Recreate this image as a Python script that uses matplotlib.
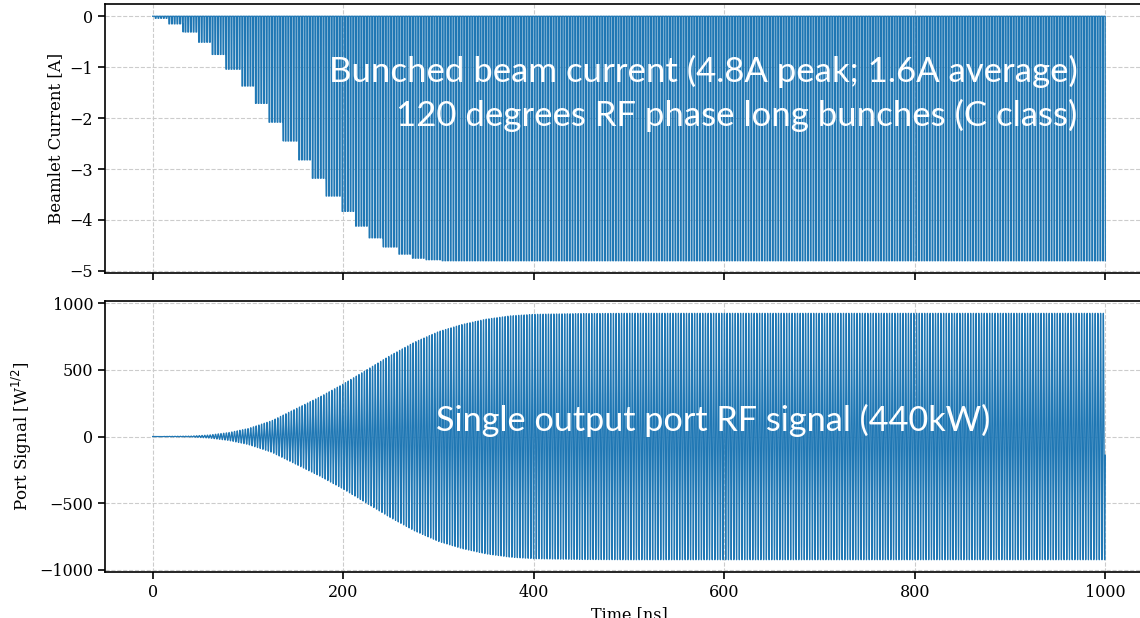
import numpy as np
import matplotlib
matplotlib.use("Agg")
import matplotlib.pyplot as plt

# RF drive and bunching
rfFreq = 0.352          # GHz
bunchPhase = 120.0      # degrees of RF phase per bunch
tEnd = 1000.0           # ns

# stepped beamlet current levels [A], one per 15 ns ramp step
stepStart = 2.0
stepLength = 15.0
stepLevels = [0.0, -0.04, -0.15, -0.31, -0.51, -0.75, -1.04, -1.37, -1.71,
              -2.08, -2.45, -2.82, -3.18, -3.53, -3.83, -4.12, -4.35, -4.53,
              -4.67, -4.75, -4.78, -4.8]

# port signal envelope [W^1/2] read at these times [ns]
envTimes = [0, 40, 60, 80, 100, 125, 150, 175, 200, 225, 250, 275, 300,
            325, 350, 375, 400, 450, 500, 1000]
envAmps = [0, 3, 12, 30, 60, 120, 210, 300, 400, 510, 620, 720, 800,
           855, 895, 920, 932, 938, 940, 940]
endValue = -140.0

samplesPerCycle = 18
nCycles = int(tEnd * rfFreq)
t = np.linspace(0, nCycles / rfFreq, nCycles * samplesPerCycle + 1)
phase = (t * rfFreq * 360.0) % 360.0

stepIdx = np.clip(((t - stepStart) // stepLength).astype(int) + 1, 0, len(stepLevels) - 1)
stepIdx[t < stepStart] = 0
level = np.array(stepLevels)[stepIdx]
current = np.where(phase < bunchPhase, level, 0.0)

envelope = np.interp(t, envTimes, envAmps)
port = envelope * np.sin(2 * np.pi * rfFreq * t)
port[-1] = endValue

plt.rcParams['font.family'] = 'DejaVu Serif'
fig = plt.figure(figsize=(11.4, 6.18), dpi=100)
ax1 = fig.add_axes([0.0921, 0.5583, 0.9193, 0.4352])
ax2 = fig.add_axes([0.0921, 0.0744, 0.9193, 0.4385], sharex=ax1)

ax1.plot(t, current, color="#1f77b4", lw=0.9)
ax2.plot(t, port, color="#1f77b4", lw=0.9)

ax1.set_ylabel("Beamlet Current [A]", fontsize=12)
ax2.set_ylabel(r"Port Signal [W$^{1/2}$]", fontsize=12)
ax2.set_xlabel("Time [ns]", fontsize=11.5)
ax1.set_yticks([0, -1, -2, -3, -4, -5])
ax2.set_yticks([1000, 500, 0, -500, -1000])
ax2.set_xticks([0, 200, 400, 600, 800, 1000])
plt.setp(ax1.get_xticklabels(), visible=False)

for ax in (ax1, ax2):
    ax.grid(ls='--', color="#cccccc", lw=0.8)
    ax.tick_params(labelsize=11.5, width=1.2, length=5)
    for sp in ax.spines.values():
        sp.set_linewidth(1.2)

ax1.text(0.928, 0.667, "Bunched beam current (4.8A peak; 1.6A average)\n"
         "120 degrees RF phase long bunches (C class)",
         transform=ax1.transAxes, ha="right", va="center", color="white",
         fontsize=25, family="Lato", linespacing=1.38)
ax2.text(0.58, 0.561, "Single output port RF signal (440kW)",
         transform=ax2.transAxes, ha="center", va="center", color="white",
         fontsize=24.7, family="Lato")

fig.savefig("out.png", dpi=100)
